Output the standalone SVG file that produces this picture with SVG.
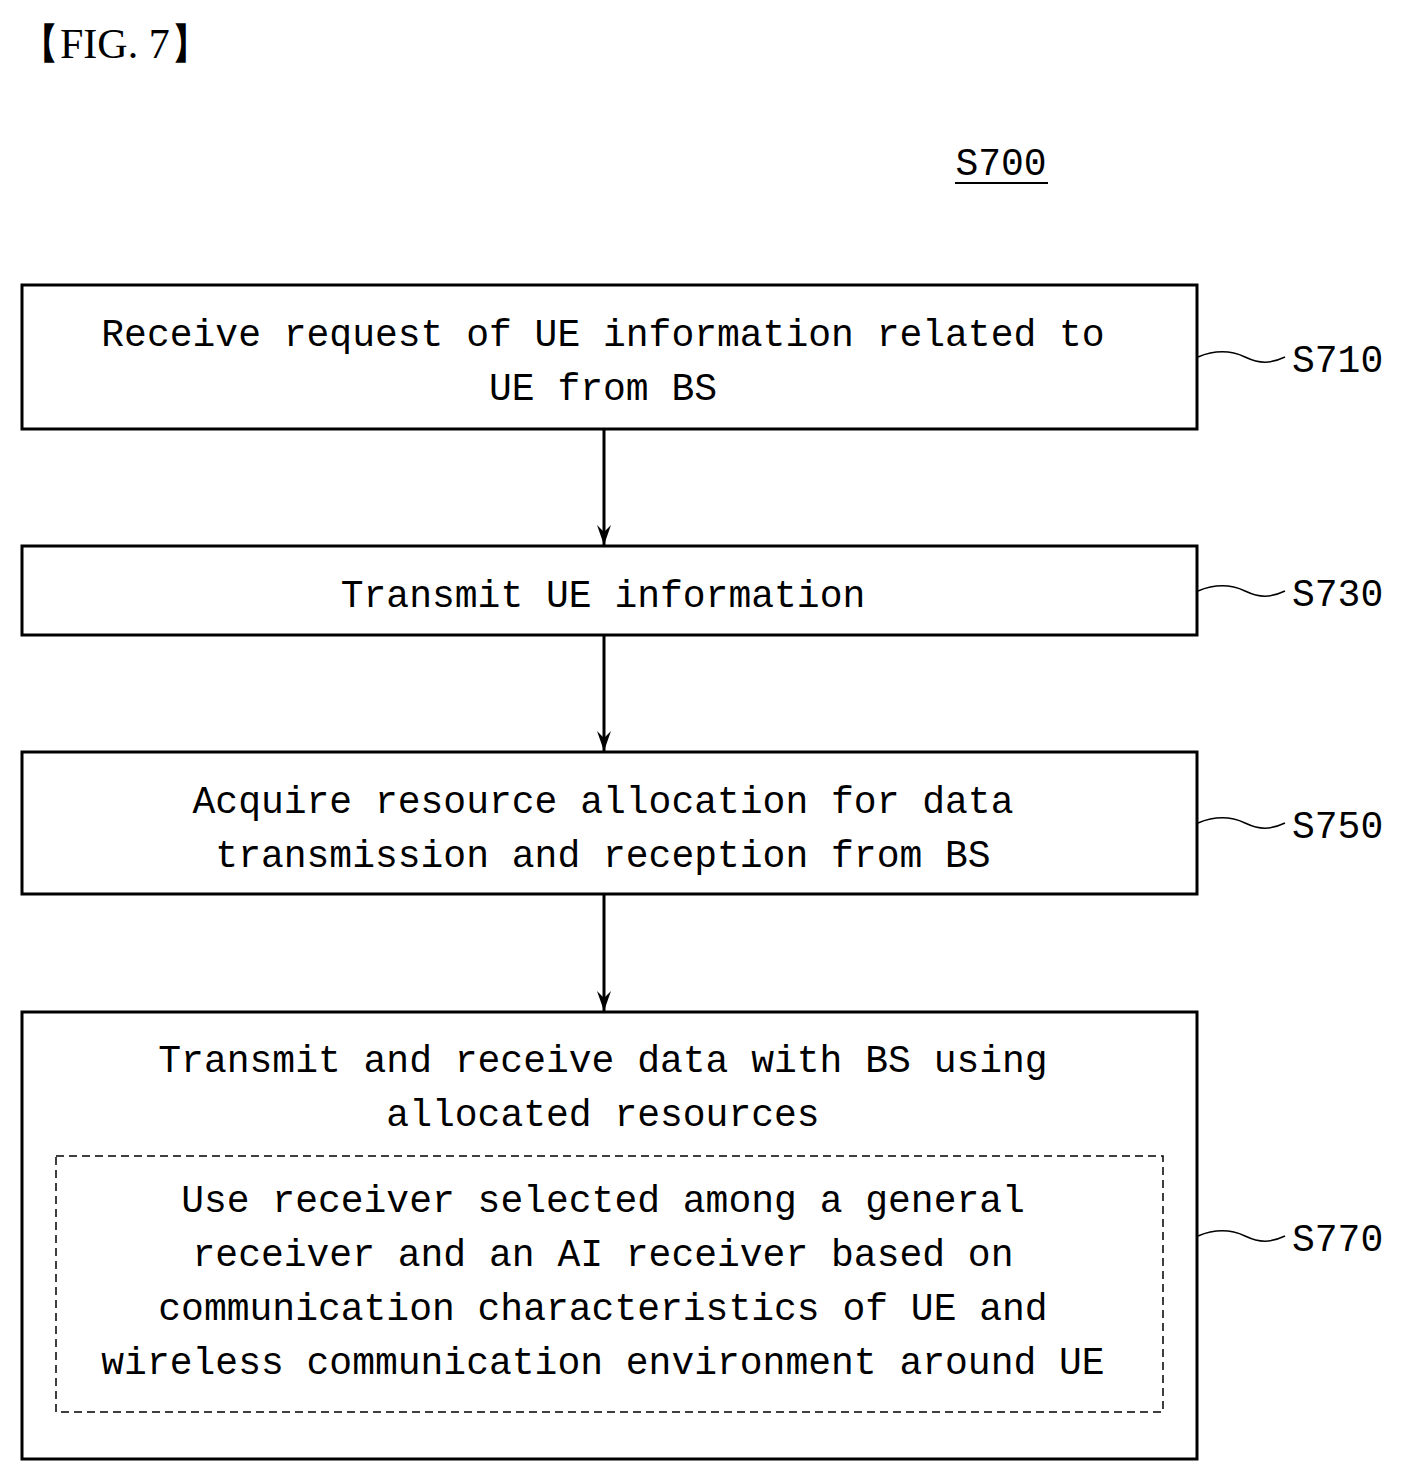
<svg xmlns="http://www.w3.org/2000/svg" width="1403" height="1481" viewBox="0 0 1403 1481">
<style>
.b{fill:none;stroke:#000;stroke-width:3}
.t{font-family:"Liberation Mono",monospace;font-size:38px;text-anchor:middle}
.l{font-family:"Liberation Mono",monospace;font-size:38px}
.s{fill:none;stroke:#000;stroke-width:1.5}
</style>
<defs><marker id="a" markerWidth="22" markerHeight="14" refX="20" refY="7" orient="auto" markerUnits="userSpaceOnUse" viewBox="0 0 22 14"><path d="M0,0 L20,7 L0,14 L7,7Z" fill="#000"/></marker></defs>
<rect width="1403" height="1481" fill="#fff"/>
<text x="18" y="58" font-family="Liberation Serif,serif" font-size="42">【FIG. 7】</text>
<text x="1001" y="175" class="t">S700</text>
<line x1="955" y1="183" x2="1048" y2="183" stroke="#000" stroke-width="2"/>
<g id="s710"><rect class="b" x="22" y="285" width="1175" height="144"/>
<text class="t" x="603" y="346">Receive request of UE information related to</text>
<text class="t" x="603" y="400">UE from BS</text>
<path class="s" d="M1198,357 C1215,350 1230,350 1245,357 S1270,364 1285,357"/><text class="l" x="1292" y="372">S710</text></g>
<g id="s730"><rect class="b" x="22" y="546" width="1175" height="89"/>
<text class="t" x="603" y="607">Transmit UE information</text>
<path class="s" d="M1198,591 C1215,584 1230,584 1245,591 S1270,598 1285,591"/><text class="l" x="1292" y="606">S730</text></g>
<g id="s750"><rect class="b" x="22" y="752" width="1175" height="142"/>
<text class="t" x="603" y="813">Acquire resource allocation for data</text>
<text class="t" x="603" y="867">transmission and reception from BS</text>
<path class="s" d="M1198,823 C1215,816 1230,816 1245,823 S1270,830 1285,823"/><text class="l" x="1292" y="838">S750</text></g>
<g id="s770"><rect class="b" x="22" y="1012" width="1175" height="447"/>
<text class="t" x="603" y="1072">Transmit and receive data with BS using</text>
<text class="t" x="603" y="1126">allocated resources</text>
<rect x="56" y="1156" width="1107" height="256" fill="none" stroke="#000" stroke-width="1.5" stroke-dasharray="8,5"/>
<text class="t" x="603" y="1212">Use receiver selected among a general</text>
<text class="t" x="603" y="1266">receiver and an AI receiver based on</text>
<text class="t" x="603" y="1320">communication characteristics of UE and</text>
<text class="t" x="603" y="1374">wireless communication environment around UE</text>
<path class="s" d="M1198,1236 C1215,1229 1230,1229 1245,1236 S1270,1243 1285,1236"/><text class="l" x="1292" y="1251">S770</text></g>
<g id="connectors" stroke="#000" stroke-width="3">
<line x1="604" y1="429" x2="604" y2="545" marker-end="url(#a)"/>
<line x1="604" y1="635" x2="604" y2="751" marker-end="url(#a)"/>
<line x1="604" y1="894" x2="604" y2="1011" marker-end="url(#a)"/>
</g>
</svg>
